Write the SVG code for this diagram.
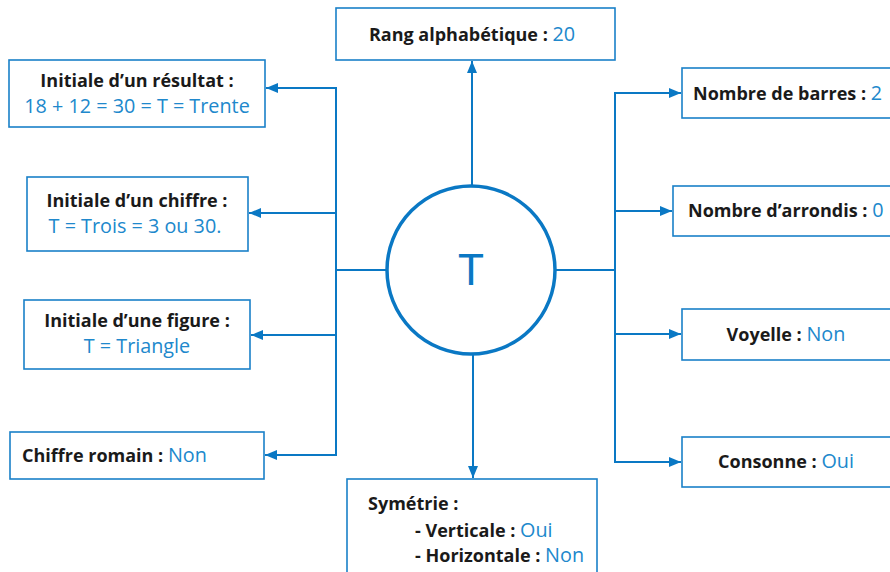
<svg xmlns="http://www.w3.org/2000/svg" width="890" height="572" viewBox="0 0 890 572">
<defs>
<style>
.box{fill:#fff;stroke:#1a80c8;stroke-width:1.6}
.ln{fill:none;stroke:#0a78c4;stroke-width:2}
.t{font-family:"Open Sans","Noto Sans",sans-serif;font-size:18px;fill:#1a1a1a}
.b{font-weight:bold}
.v{fill:#2088cc;font-weight:normal;font-size:19.8px}
</style>
<marker id="ah" markerUnits="userSpaceOnUse" markerWidth="12" markerHeight="12" viewBox="0 0 12 12" refX="12" refY="6" orient="auto">
<path d="M0,1 L12,6 L0,11 Z" fill="#0a78c4"/>
</marker>
</defs>
<rect width="890" height="572" fill="#fff"/>
<g id="connectors">
<line class="ln" x1="472" y1="185" x2="472" y2="61" marker-end="url(#ah)"/>
<line class="ln" x1="473" y1="355" x2="473" y2="478" marker-end="url(#ah)"/>
<line class="ln" x1="387" y1="270" x2="336" y2="270"/>
<line class="ln" x1="336" y1="87" x2="336" y2="456"/>
<line class="ln" x1="337" y1="88" x2="266" y2="88" marker-end="url(#ah)"/>
<line class="ln" x1="337" y1="213" x2="249" y2="213" marker-end="url(#ah)"/>
<line class="ln" x1="337" y1="335" x2="251" y2="335" marker-end="url(#ah)"/>
<line class="ln" x1="337" y1="455" x2="265" y2="455" marker-end="url(#ah)"/>
<line class="ln" x1="555" y1="270" x2="615" y2="270"/>
<line class="ln" x1="615" y1="92" x2="615" y2="463"/>
<line class="ln" x1="614" y1="93" x2="681" y2="93" marker-end="url(#ah)"/>
<line class="ln" x1="614" y1="211" x2="672" y2="211" marker-end="url(#ah)"/>
<line class="ln" x1="614" y1="334" x2="681" y2="334" marker-end="url(#ah)"/>
<line class="ln" x1="614" y1="462" x2="681" y2="462" marker-end="url(#ah)"/>
</g>
<g id="center">
<circle cx="471" cy="270" r="84" fill="#fff" stroke="#0a78c4" stroke-width="3.5"/>
<text x="471" y="285" text-anchor="middle" font-family="Lato,'Noto Sans',sans-serif" font-size="43" fill="#0a78c4">T</text>
</g>
<g id="rang">
<rect class="box" x="336" y="8" width="279" height="52"/>
<text class="t b" x="472" y="41" text-anchor="middle">Rang alphabétique : <tspan class="v">20</tspan></text>
</g>
<g id="resultat">
<rect class="box" x="9" y="60" width="256" height="67"/>
<text class="t b" x="137" y="87" text-anchor="middle">Initiale d’un résultat :</text>
<text class="t v" x="137" y="113" text-anchor="middle">18 + 12 = 30 = T = Trente</text>
</g>
<g id="chiffre">
<rect class="box" x="27" y="177" width="221" height="74"/>
<text class="t b" x="137" y="207" text-anchor="middle">Initiale d’un chiffre :</text>
<text class="t v" x="135" y="233" text-anchor="middle">T = Trois = 3 ou 30.</text>
</g>
<g id="figure">
<rect class="box" x="24" y="300" width="226" height="69"/>
<text class="t b" x="137" y="327" text-anchor="middle">Initiale d’une figure :</text>
<text class="t v" x="137" y="353" text-anchor="middle">T = Triangle</text>
</g>
<g id="romain">
<rect class="box" x="10" y="432" width="254" height="47"/>
<text class="t b" x="22" y="462">Chiffre romain : <tspan class="v">Non</tspan></text>
</g>
<g id="barres">
<rect class="box" x="682" y="68" width="220" height="50"/>
<text class="t b" x="693" y="100">Nombre de barres : <tspan class="v">2</tspan></text>
</g>
<g id="arrondis">
<rect class="box" x="673" y="186" width="230" height="50"/>
<text class="t b" x="688" y="217">Nombre d’arrondis : <tspan class="v">0</tspan></text>
</g>
<g id="voyelle">
<rect class="box" x="682" y="309" width="220" height="51"/>
<text class="t b" x="786" y="341" text-anchor="middle">Voyelle : <tspan class="v">Non</tspan></text>
</g>
<g id="consonne">
<rect class="box" x="682" y="437" width="220" height="50"/>
<text class="t b" x="786" y="468" text-anchor="middle">Consonne : <tspan class="v">Oui</tspan></text>
</g>
<g id="symetrie">
<rect class="box" x="347" y="479" width="250" height="100"/>
<text class="t b" x="368" y="510">Symétrie :</text>
<text class="t b" x="415" y="537">- Verticale : <tspan class="v">Oui</tspan></text>
<text class="t b" x="415" y="562">- Horizontale : <tspan class="v">Non</tspan></text>
</g>
</svg>
